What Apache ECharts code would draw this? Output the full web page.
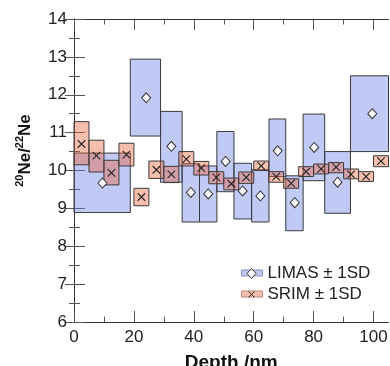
<!DOCTYPE html>
<html><head><meta charset="utf-8">
<script src="https://cdn.jsdelivr.net/npm/echarts@6/dist/echarts.min.js"></script>
<style>html,body{margin:0;padding:0;background:#fff}#c{width:390px;height:366px}</style>
</head><body><div id="c"></div>
<script>
// LIMAS measurements (box = depth range x ±1SD)
const limasDepth = [9.5, 24.1, 32.5, 39.0, 44.8, 50.6, 56.3, 62.2, 68.0, 73.7, 80.2, 88.0, 99.6];
const limasStart = [0, 18.8, 28.9, 36.1, 41.9, 47.7, 53.4, 59.3, 65.1, 70.7, 76.5, 83.7, 92.3];
const limasEnd   = [18.8, 28.9, 36.1, 41.9, 47.7, 53.4, 59.3, 65.1, 70.7, 76.5, 83.7, 92.3, 106.9];
const limasValue = [9.67, 11.92, 10.64, 9.42, 9.38, 10.24, 9.46, 9.33, 10.52, 9.15, 10.61, 9.69, 11.50];
const limasLow   = [8.89, 10.91, 9.69, 8.64, 8.64, 9.44, 8.72, 8.64, 9.84, 8.41, 9.73, 8.87, 10.50];
const limasHigh  = [10.46, 12.94, 11.56, 10.18, 10.12, 11.03, 10.19, 10.02, 11.36, 9.86, 11.49, 10.50, 12.50];

// SRIM simulation
const srimDepth = [2.5, 7.5, 12.5, 17.5, 22.5, 27.5, 32.5, 37.5, 42.5, 47.5, 52.5, 57.5, 62.5, 67.5, 72.5, 77.5, 82.5, 87.5, 92.5, 97.5, 102.5];
const srimStart = [0, 5, 10, 15, 20, 25, 30, 35, 40, 45, 50, 55, 60, 65, 70, 75, 80, 85, 90, 95, 100];
const srimEnd   = [5, 10, 15, 20, 25, 30, 35, 40, 45, 50, 55, 60, 65, 70, 75, 80, 85, 90, 95, 100, 105];
const srimValue = [10.70, 10.39, 9.94, 10.42, 9.30, 10.02, 9.90, 10.30, 10.06, 9.82, 9.65, 9.82, 10.12, 9.84, 9.66, 9.97, 10.04, 10.09, 9.90, 9.84, 10.25];
const srimLow   = [10.15, 9.96, 9.62, 10.12, 9.07, 9.79, 9.68, 10.12, 9.88, 9.65, 9.49, 9.66, 10.00, 9.69, 9.53, 9.84, 9.91, 9.94, 9.78, 9.71, 10.10];
const srimHigh  = [11.29, 10.80, 10.27, 10.72, 9.53, 10.25, 10.11, 10.50, 10.24, 9.97, 9.80, 9.96, 10.25, 9.97, 9.78, 10.10, 10.17, 10.21, 10.04, 9.97, 10.39];

const xMajor = [0, 20, 40, 60, 80, 100];
const xMinor = [10, 30, 50, 70, 90];
const seriesNames = ['LIMAS ± 1SD', 'SRIM ± 1SD'];

const FONT = '"Liberation Sans", Arial, Helvetica, sans-serif';
const LIMAS_FILL = 'rgba(100,120,230,0.40)';
const SRIM_FILL = 'rgba(232,100,60,0.42)';
const EDGE = '#3a3a3a';

function boxRender(fill) {
  return function (params, api) {
    const p0 = api.coord([api.value(0), api.value(3)]);
    const p1 = api.coord([api.value(1), api.value(2)]);
    const cs = params.coordSys;
    const r = echarts.graphic.clipRectByRect(
      {x: p0[0], y: p0[1], width: p1[0] - p0[0], height: p1[1] - p0[1]},
      {x: cs.x, y: cs.y, width: cs.width, height: cs.height});
    if (!r) return null;
    return {type: 'rect', shape: r, style: {fill: fill, stroke: EDGE, lineWidth: 1}};
  };
}

const limasBoxes = limasStart.map((s, i) => [s, limasEnd[i], limasLow[i], limasHigh[i]]);
const srimBoxes = srimStart.map((s, i) => [s, srimEnd[i], srimLow[i], srimHigh[i]]);
const limasPts = limasDepth.map((d, i) => [d, limasValue[i]]);
const srimPts = srimDepth.map((d, i) => [d, srimValue[i]]);

function xAx(pos, vals, len, main) {
  return {
    type: 'value', position: pos, min: 0, max: 105,
    axisLine: {show: main, lineStyle: {color: '#333', width: 1}},
    axisTick: {show: true, inside: true, length: len, customValues: vals, lineStyle: {color: '#555', width: 1}},
    axisLabel: main && pos === 'bottom' ? {show: true, customValues: xMajor, margin: 7, fontSize: 17, color: '#222', fontFamily: FONT} : {show: false},
    splitLine: {show: false}
  };
}
function yAx(pos, main) {
  return {
    type: 'value', position: pos, min: 6, max: 14, interval: 1,
    axisLine: {show: true, lineStyle: {color: '#333', width: 1}},
    axisTick: {show: true, inside: true, length: main ? 11 : 9, lineStyle: {color: '#555', width: 1}},
    minorTick: {show: true, splitNumber: 2, length: main ? 6 : 5, lineStyle: {color: '#555', width: 1}},
    axisLabel: main ? {show: true, margin: 7, fontSize: 17, color: '#222', fontFamily: FONT} : {show: false},
    splitLine: {show: false}
  };
}

const x0 = xAx('bottom', xMajor, 11, true);
x0.name = 'Depth /nm';
x0.nameLocation = 'middle';
x0.nameGap = 31;
x0.nameMoveOverlap = false;
x0.nameTextStyle = {fontSize: 19, fontWeight: 'bold', color: '#111', fontFamily: FONT};
const y0 = yAx('left', true);
y0.name = '{s|20}{b|Ne/}{s|22}{b|Ne}';
y0.nameLocation = 'middle';
y0.nameGap = 40;
y0.nameMoveOverlap = false;
y0.nameTextStyle = {
  color: '#111', fontFamily: FONT, padding: [0, 0, 0, 40],
  rich: {
    b: {fontSize: 17, fontWeight: 'bold', fontFamily: FONT, color: '#111', lineHeight: 20, verticalAlign: 'bottom'},
    s: {fontSize: 11, fontWeight: 'bold', fontFamily: FONT, color: '#111', lineHeight: 20, verticalAlign: 'top'}
  }
};

const chart = echarts.init(document.getElementById('c'), null, {renderer: 'canvas'});
chart.setOption({
  animation: false,
  backgroundColor: '#fff',
  textStyle: {fontFamily: FONT},
  grid: {left: 74, right: 1.5, top: 19, bottom: 44, containLabel: false, outerBoundsMode: 'none'},
  xAxis: [x0, xAx('bottom', xMinor, 5.5, false), xAx('top', xMajor, 11, true), xAx('top', xMinor, 5.5, false)],
  yAxis: [y0, yAx('right', false)],
  legend: {
    orient: 'vertical', left: 241, top: 264, itemGap: 3, padding: 0,
    itemWidth: 21, itemHeight: 6, icon: 'rect',
    textStyle: {fontSize: 17, color: '#222', fontFamily: FONT, lineHeight: 18},
    data: [
      {name: seriesNames[0], itemStyle: {color: LIMAS_FILL, borderColor: '#8890c0', borderWidth: 1}},
      {name: seriesNames[1], itemStyle: {color: SRIM_FILL, borderColor: '#c08870', borderWidth: 1}}
    ]
  },
  graphic: [
    {type: 'polygon', shape: {points: [[251.5, 268.5], [256, 273.5], [251.5, 278.5], [247, 273.5]]},
     style: {fill: '#fff', stroke: '#333', lineWidth: 1}, z: 100},
    {type: 'polyline', shape: {points: [[248.5, 291.5], [254.5, 297.5]]}, style: {stroke: '#222', lineWidth: 1}, z: 100},
    {type: 'polyline', shape: {points: [[248.5, 297.5], [254.5, 291.5]]}, style: {stroke: '#222', lineWidth: 1}, z: 100}
  ],
  series: [
    {name: seriesNames[0], type: 'custom', xAxisIndex: 0, yAxisIndex: 0, renderItem: boxRender(LIMAS_FILL),
     encode: {x: [0, 1], y: [2, 3]}, data: limasBoxes, itemStyle: {color: LIMAS_FILL}, z: 2},
    {name: seriesNames[1], type: 'custom', xAxisIndex: 0, yAxisIndex: 0, renderItem: boxRender(SRIM_FILL),
     encode: {x: [0, 1], y: [2, 3]}, data: srimBoxes, itemStyle: {color: SRIM_FILL}, z: 3},
    {name: 'LIMAS pts', type: 'scatter', xAxisIndex: 0, yAxisIndex: 0, data: limasPts,
     symbol: 'diamond', symbolSize: [9, 10], itemStyle: {color: '#fff', borderColor: '#333', borderWidth: 1, opacity: 1}, z: 5},
    {name: 'SRIM pts', type: 'scatter', xAxisIndex: 0, yAxisIndex: 0, data: srimPts,
     symbol: 'path://M0,0L10,10M10,0L0,10', symbolSize: 7.5,
     itemStyle: {color: 'rgba(0,0,0,0)', borderColor: '#222', borderWidth: 1.1, opacity: 1}, z: 5}
  ]
});
</script>
</body></html>
